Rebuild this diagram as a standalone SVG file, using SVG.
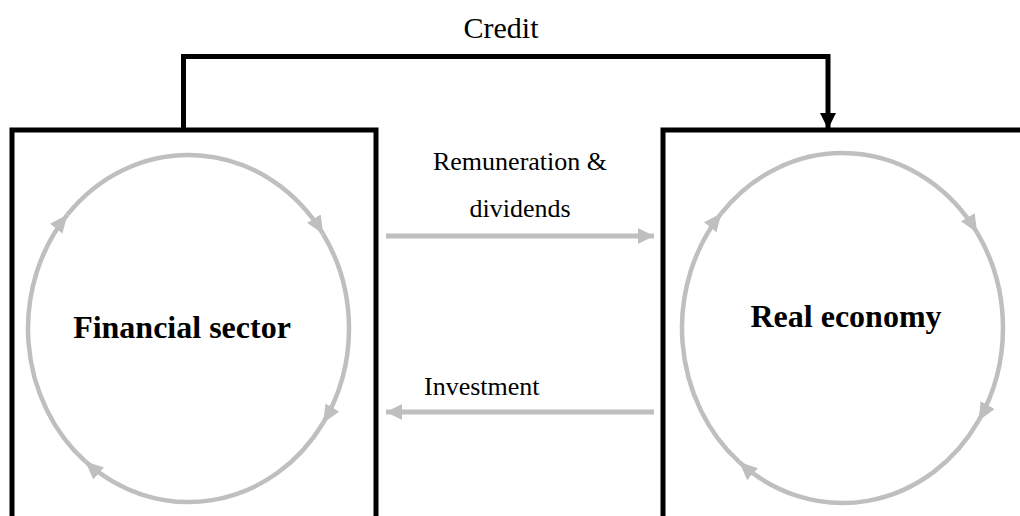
<svg xmlns="http://www.w3.org/2000/svg" width="1020" height="516" viewBox="0 0 1020 516">
<style>
.box{fill:none;stroke:#000;stroke-width:5}
.cyc{fill:none;stroke:#bfbfbf;stroke-width:4.5;marker-end:url(#ga)}
.flow{fill:none;stroke:#bfbfbf;stroke-width:5;marker-end:url(#gb)}
.credit{fill:none;stroke:#000;stroke-width:5;marker-end:url(#ba)}
.lbl{font-family:"Liberation Serif","Times New Roman",serif;fill:#000}
.big{font-size:32px;font-weight:bold;text-anchor:middle}
.mid{font-size:26px}
</style>
<defs>
<marker id="ga" markerUnits="userSpaceOnUse" markerWidth="18" markerHeight="16" viewBox="0 0 18 16" refX="18" refY="8" orient="auto"><path d="M0,0 L18,8 L0,16 z" fill="#bfbfbf"/></marker>
<marker id="gb" markerUnits="userSpaceOnUse" markerWidth="16" markerHeight="16" viewBox="0 0 16 16" refX="16" refY="8" orient="auto"><path d="M0,0 L16,8 L0,16 z" fill="#bfbfbf"/></marker>
<marker id="ba" markerUnits="userSpaceOnUse" markerWidth="16" markerHeight="16" viewBox="0 0 16 16" refX="16" refY="8" orient="auto"><path d="M0,0 L16,8 L0,16 z" fill="#000"/></marker>
</defs>
<g id="financial-sector">
<path class="box" d="M12,520 L12,130 L376,130 L376,520"/>
<path class="cyc" d="M85.3,461.4 A160.5,173.5 0 0 1 67.4,214.7"/>
<path class="cyc" d="M67.4,214.7 A160.5,173.5 0 0 1 323.1,234"/>
<path class="cyc" d="M323.1,234 A160.5,173.5 0 0 1 323.1,423"/>
<path class="cyc" d="M323.1,423 A160.5,173.5 0 0 1 85.3,461.4"/>
<text class="lbl big" x="182" y="338">Financial sector</text>
</g>
<g id="real-economy">
<path class="box" d="M663,520 L663,130 L1025,130"/>
<path class="cyc" d="M739.3,462.1 A160.5,175 0 0 1 721.4,213.2"/>
<path class="cyc" d="M721.4,213.2 A160.5,175 0 0 1 977.1,232.7"/>
<path class="cyc" d="M977.1,232.7 A160.5,175 0 0 1 978.6,420.7"/>
<path class="cyc" d="M978.6,420.7 A160.5,175 0 0 1 739.3,462.1"/>
<text class="lbl big" x="846" y="327">Real economy</text>
</g>
<g id="connectors">
<path class="credit" d="M183.5,130 L183.5,56.5 L828,56.5 L828,129"/>
<text class="lbl" x="501" y="38" font-size="30" text-anchor="middle">Credit</text>
<path class="flow" d="M386,236 L654,236"/>
<text class="lbl mid" x="520" y="170" text-anchor="middle">Remuneration &amp;</text>
<text class="lbl mid" x="520" y="217" text-anchor="middle">dividends</text>
<path class="flow" d="M654,412 L386,412"/>
<text class="lbl mid" x="424" y="395">Investment</text>
</g>
</svg>
